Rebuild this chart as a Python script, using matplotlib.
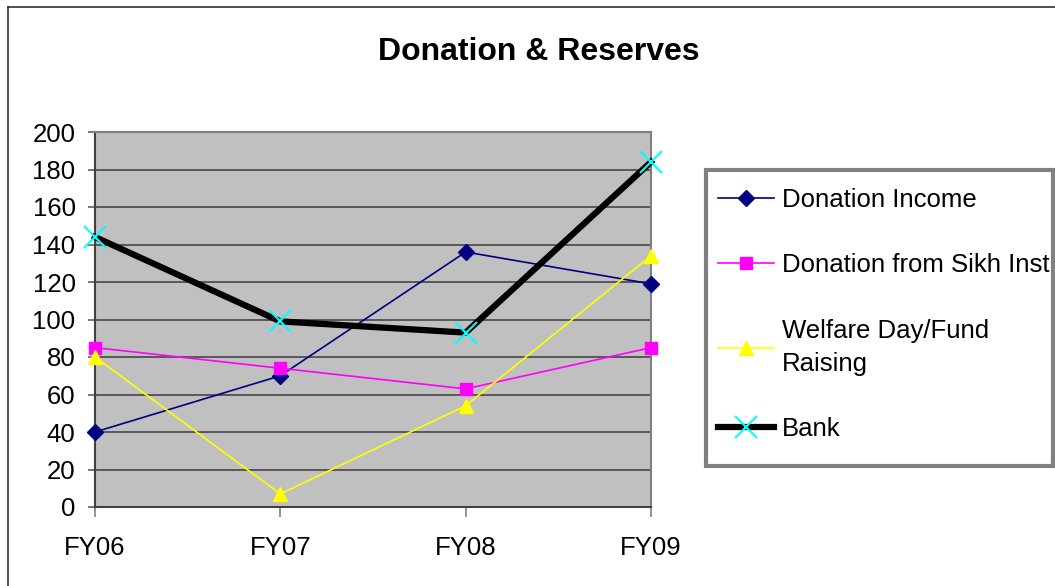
import matplotlib
matplotlib.use("Agg")
import matplotlib.pyplot as plt
from matplotlib.lines import Line2D
from matplotlib.patches import Rectangle

plt.rcParams['font.family'] = ['Liberation Sans', 'DejaVu Sans']

categories = ["FY06", "FY07", "FY08", "FY09"]
donation_income = [40, 70, 136, 119]
donation_sikh_inst = [85, 74, 63, 85]
welfare_day = [80, 7, 54, 134]
bank = [144, 99, 93, 184]
y_ticks = [0, 20, 40, 60, 80, 100, 120, 140, 160, 180, 200]

W, H = 1055, 586
fig = plt.figure(figsize=(W/100, H/100), dpi=100)
ax = fig.add_axes([95/W, 1-507/H, (651-95)/W, (507-132)/H])
ax.set_facecolor('#C0C0C0')

x = list(range(len(categories)))
ax.plot(x, donation_income, color='#000080', lw=1.2, marker='D', ms=8,
        mfc='#000080', mec='#000080', label='Donation Income', clip_on=False, zorder=4)
ax.plot(x, donation_sikh_inst, color='#FF00FF', lw=1.2, marker='s', ms=9,
        mfc='#FF00FF', mec='#FF00FF', label='Donation from Sikh Inst', clip_on=False, zorder=4)
ax.plot(x, welfare_day, color='#FFFF00', lw=1.2, marker='^', ms=10,
        mfc='#FFFF00', mec='#FFFF00', label='Welfare Day/Fund\nRaising', clip_on=False, zorder=4)
ax.plot(x, bank, color='black', lw=4.5, marker='x', ms=16, mew=1.5,
        mec='#00FFFF', label='Bank', clip_on=False, zorder=5)

ax.set_xlim(0, 3)
ax.set_ylim(0, 200)
ax.set_xticks(x)
ax.set_xticklabels(categories)
ax.set_yticks(y_ticks)
ax.yaxis.grid(True, color='#505050', lw=1.3)
ax.set_axisbelow(True)
ax.tick_params(axis='y', length=5, width=1.2, color='#606060', pad=9, labelsize=18.5)
ax.tick_params(axis='x', length=7, width=1.2, color='#808080', pad=14, labelsize=18.5)
for s in ['left', 'bottom']:
    ax.spines[s].set_color('#404040')
    ax.spines[s].set_linewidth(1.5)
for s in ['top', 'right']:
    ax.spines[s].set_color('#808080')
    ax.spines[s].set_linewidth(1.5)

fig.text(539/W, 1-52/H, 'Donation & Reserves', ha='center', va='center',
         fontsize=23, fontweight='bold')

# legend box
bx0, bx1 = 706/W, 1053/W
by0, by1 = 1-466/H, 1-170/H
fig.add_artist(Rectangle((bx0, by0), bx1-bx0, by1-by0, transform=fig.transFigure,
                         facecolor='white', edgecolor='#808080', lw=3, zorder=-1))
leg = ax.legend(loc='upper left', bbox_to_anchor=(710/W, 1-180/H),
                bbox_transform=fig.transFigure, fontsize=18.5,
                frameon=False, handlelength=2.2, handletextpad=0.3,
                labelspacing=1.62, borderpad=0.3, borderaxespad=0)
for t in leg.get_texts():
    t.set_linespacing(1.46)

fig.add_artist(Line2D([8/W, 8/W], [0, 1-7/H], transform=fig.transFigure,
                      color='#303030', lw=1.2))
fig.add_artist(Line2D([8/W, 1], [1-7/H, 1-7/H], transform=fig.transFigure,
                      color='#303030', lw=1.2))

fig.savefig('out.png', dpi=100)
